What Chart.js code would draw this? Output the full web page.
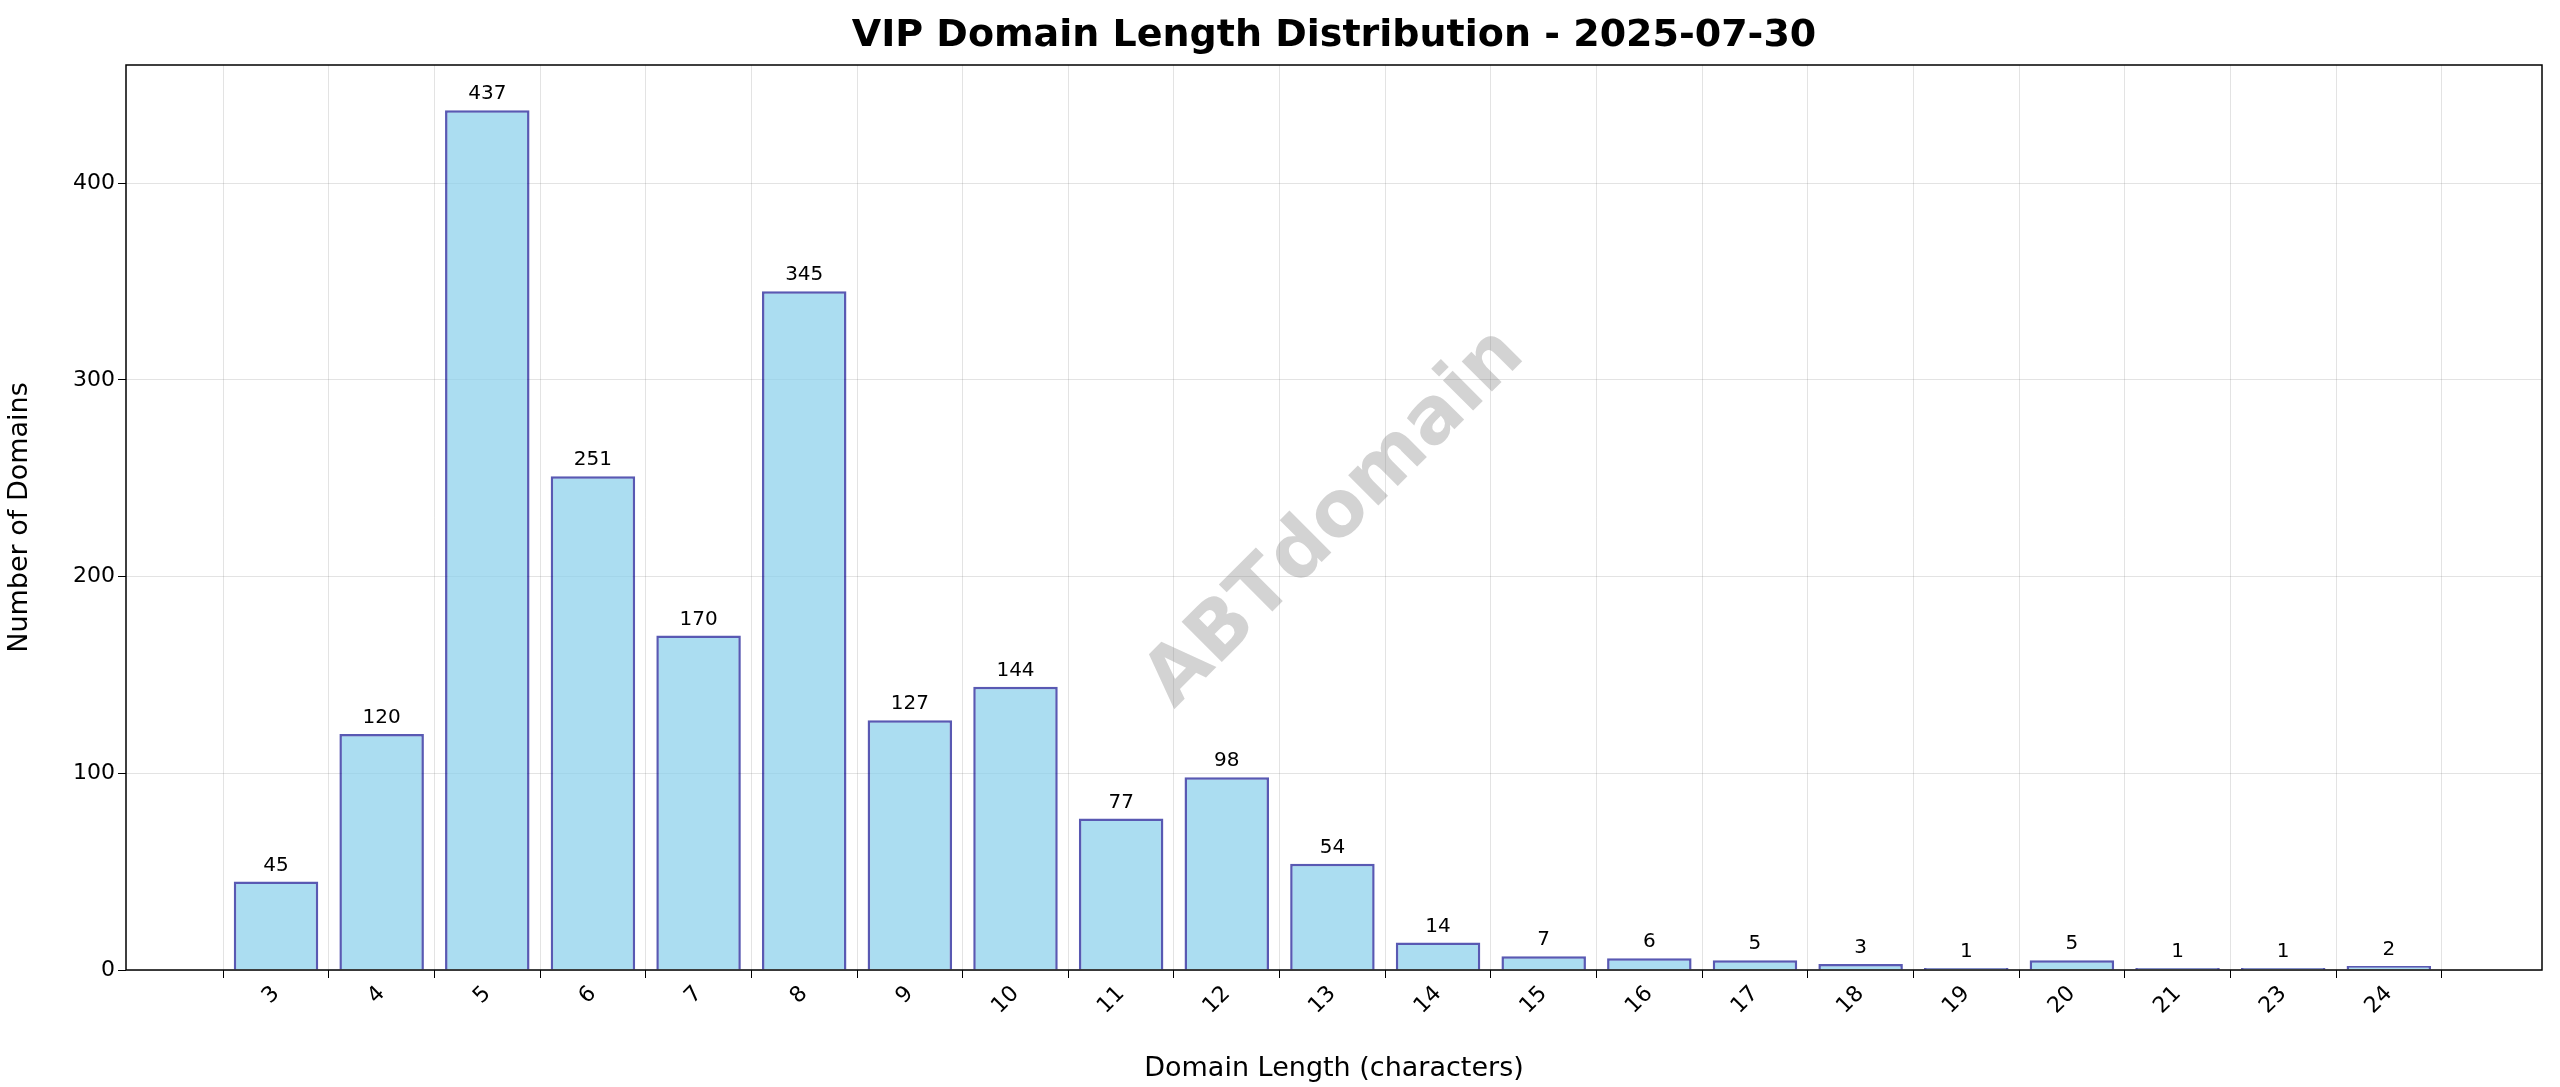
<!DOCTYPE html>
<html><head><meta charset="utf-8">
<script src="https://cdn.jsdelivr.net/npm/chart.js@4/dist/chart.umd.min.js"></script>
<style>body{margin:0;background:#fff}canvas{display:block}</style>
</head><body>
<canvas id="c" width="2560" height="1087" style="width:2560px;height:1087px"></canvas>
<script>
const categories = ["3","4","5","6","7","8","9","10","11","12","13","14","15","16","17","18","19","20","21","23","24"];
const counts = [45,120,437,251,170,345,127,144,77,98,54,14,7,6,5,3,1,5,1,1,2];
const yTicks = [0,100,200,300,400];
const F = "'DejaVu Sans', sans-serif";

const deco = {
  id: 'deco',
  afterDatasetsDraw(chart) {
    const ctx = chart.ctx, a = chart.chartArea, meta = chart.getDatasetMeta(0);
    ctx.save();
    ctx.fillStyle = '#000'; ctx.font = '20px ' + F; ctx.textAlign = 'center'; ctx.textBaseline = 'bottom';
    meta.data.forEach((b, i) => ctx.fillText(String(counts[i]), b.x, b.y - 6));
    ctx.translate(1336, 519); ctx.rotate(-Math.PI / 4);
    ctx.font = 'bold 78px ' + F; ctx.fillStyle = 'rgba(128,128,128,0.35)'; ctx.textBaseline = 'middle';
    ctx.fillText('ABTdomain', 0, 0);
    ctx.restore();
    ctx.save();
    ctx.strokeStyle = '#000'; ctx.lineWidth = 1.5;
    ctx.strokeRect(a.left, a.top, a.right - a.left, a.bottom - a.top);
    ctx.fillStyle = '#000'; ctx.font = 'bold 38px ' + F; ctx.textAlign = 'center'; ctx.textBaseline = 'middle';
    ctx.fillText('VIP Domain Length Distribution - 2025-07-30', (a.left + a.right) / 2, 36);
    ctx.restore();
  }
};

new Chart(document.getElementById('c'), {
  type: 'bar',
  data: {
    datasets: [{
      data: counts.map((v, i) => ({x: i, y: v})),
      backgroundColor: 'rgba(135,206,235,0.7)',
      borderColor: 'rgba(0,0,139,0.65)',
      borderWidth: 2.5,
      barPercentage: 0.8, categoryPercentage: 1
    }]
  },
  options: {
    responsive: false, animation: false, devicePixelRatio: 1,
    layout: {padding: {left: 0, right: 18, top: 65, bottom: 0}},
    plugins: {legend: {display: false}, title: {display: false}, tooltip: {enabled: false}},
    scales: {
      x: {
        type: 'linear', min: -1.42, max: 21.45, offset: false,
        afterBuildTicks(s) { s.ticks = categories.map((c, i) => ({value: i})); },
        afterFit(s) { s.height = 117; },
        ticks: {callback: (v) => categories[v], maxRotation: 45, minRotation: 45, color: '#000', font: {family: F, size: 22}, autoSkip: false},
        grid: {color: 'rgba(128,128,128,0.22)', tickColor: '#000', tickLength: 8},
        border: {display: false},
        title: {display: true, text: 'Domain Length (characters)', color: '#000', font: {family: F, size: 27}, padding: {top: 0, bottom: 2}}
      },
      y: {
        min: 0, max: 460,
        afterBuildTicks(s) { s.ticks = yTicks.map(v => ({value: v})); },
        afterFit(s) { s.width = 126; },
        ticks: {color: '#000', font: {family: F, size: 22}},
        grid: {color: 'rgba(128,128,128,0.22)', tickColor: '#000', tickLength: 8},
        border: {display: false},
        title: {display: true, text: 'Number of Domains', color: '#000', font: {family: F, size: 27}}
      }
    }
  },
  plugins: [deco]
});
</script>
</body></html>
